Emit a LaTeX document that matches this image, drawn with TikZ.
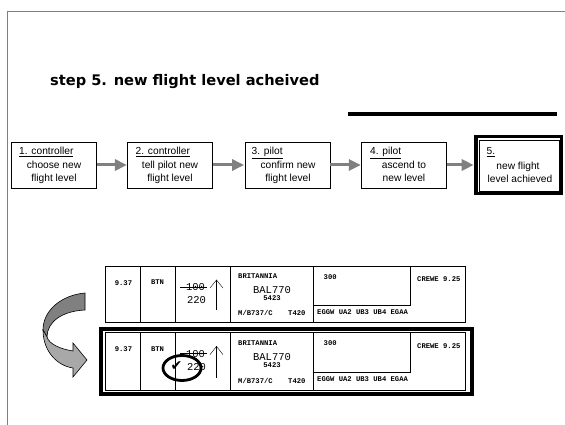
\documentclass[tikz,border=0pt]{standalone}
\usepackage{fontspec}
\setmainfont{Liberation Sans}
\newfontfamily\titlefont{DejaVu Sans}
\newfontfamily\stripmono{Liberation Mono}
\newfontfamily\symfont{DejaVu Sans}
\usetikzlibrary{arrows.meta,shapes.geometric}
\definecolor{framegray}{RGB}{128,128,128}
\definecolor{arrowgray}{RGB}{128,128,128}
\definecolor{banddark}{RGB}{128,128,128}
\definecolor{bandlight}{RGB}{168,168,168}

\newcommand\flightstrip[3]{%
\begin{scope}[shift={(0,#2)},yscale=#3]
  \draw[stripline] (105.5,0) rectangle (465.5,55.5);
  \draw[stripline] (140.5,0) -- (140.5,55.5);
  \draw[stripline] (175.5,0) -- (175.5,55.5);
  \draw[stripline] (230,0) -- (230,55.5);
  \draw[stripline] (313.5,0) -- (313.5,55.5);
  \draw[stripline] (313.5,38.5) -- (410,38.5) -- (410,0);
  \node[monosmall] (#1time) at (123.5,16.5) {9.37};
  \node[monosmall] (#1btn) at (157.5,16) {BTN};
  \node[monobig] (#1old) at (195.5,20.5) {100};
  \draw ([xshift=-6pt]#1old.west) -- ([xshift=2pt]#1old.east);
  \node[monobig] (#1new) at (196.5,33.5) {220};
  \draw (216.5,43.5) -- (216.5,13.5);
  \draw (210,21.5) -- (216.5,13.5) -- (223,21.5);
  \node[monosmall, anchor=west] (#1comp) at (238,10) {BRITANNIA};
  \node[monobig] (#1call) at (272,23.5) {BAL770};
  \node[monosmall] (#1sq) at (272,31.5) {5423};
  \node[monosmall, anchor=west] (#1type) at (238,46.5) {M/B737/C};
  \node[monosmall, anchor=west] (#1spd) at (288,46.5) {T420};
  \node[monosmall, anchor=west] (#1cfl) at (323.5,10.5) {300};
  \node[monosmall, anchor=west] (#1fix) at (417,13) {CREWE 9.25};
  \node[monosmall, anchor=west] (#1route) at (317,45.5) {EGGW UA2 UB3 UB4 EGAA};
\end{scope}}

\begin{document}
\begin{tikzpicture}[x=1pt,y=-1pt,
  flowbox/.style={draw, line width=0.8pt, minimum width=85pt, minimum height=46pt, inner sep=0pt},
  flowtext/.style={font=\fontsize{10.2}{12}\selectfont, inner sep=0pt, anchor=base},
  flowhead/.style={font=\fontsize{10.2}{12}\selectfont, inner sep=0pt, anchor=base west},
  flowarrow/.style={draw=arrowgray, line width=3pt, -{Triangle[length=12pt,width=11pt]}, shorten >=0.5pt},
  stripline/.style={line width=0.9pt},
  monosmall/.style={font=\stripmono\bfseries\fontsize{7.2}{8}\selectfont, inner sep=0pt},
  monobig/.style={font=\stripmono\fontsize{10.5}{12}\selectfont, inner sep=0pt}
]
\useasboundingbox (0,0) rectangle (565,425);

% page frame
\draw[framegray, line width=0.8pt] (565,11.5) -- (7.5,11.5) -- (7.5,425);

% title and rule
\node[anchor=base west, inner sep=0pt, font=\titlefont\bfseries\fontsize{14.6}{16}\selectfont] (title) at (50,86) {step 5. new flight level acheived};
\coordinate (ruleA) at (348,114);
\coordinate (ruleB) at (557,114);
\draw[line width=3.5pt] (ruleA) -- (ruleB);

% flow boxes
\node[flowbox] (b1) at (54.2,165) {};
\node[flowbox] (b2) at (170.3,165) {};
\node[flowbox] (b3) at (287.5,165) {};
\node[flowbox] (b4) at (404.2,165) {};
\node[draw, line width=3.5pt, minimum width=85.5pt, minimum height=56.5pt, inner sep=0pt] (b5o) at (518.7,165) {};
\node[draw, line width=0.8pt, minimum width=80pt, minimum height=51pt, inner sep=0pt] (b5) at (519,165.5) {};

\node[flowhead] (h1) at (19,155) {\underline{1. controller}};
\node[flowtext] (t1a) at (54,168.5) {choose new};
\node[flowtext] (t1b) at (54,181.5) {flight level};
\node[flowhead] (h2) at (135.5,155) {\underline{2. controller}};
\node[flowtext] (t2a) at (170,168.5) {tell pilot new};
\node[flowtext] (t2b) at (170,181.5) {flight level};
\node[flowhead] (h3) at (251.5,155) {\underline{3. pilot}};
\node[flowtext] (t3a) at (288,168.5) {confirm new};
\node[flowtext] (t3b) at (288,181.5) {flight level};
\node[flowhead] (h4) at (370,155) {\underline{4. pilot}};
\node[flowtext] (t4a) at (404,168.5) {ascend to};
\node[flowtext] (t4b) at (404,181.5) {new level};
\node[flowhead] (h5) at (486.5,155) {\underline{5.}};
\node[flowtext] (t5a) at (518,169.5) {new flight};
\node[flowtext] (t5b) at (520,182.5) {level achieved};

\draw[flowarrow] (b1) -- (b2);
\draw[flowarrow] (b2) -- (b3);
\draw[flowarrow] (b3) -- (b4);
\draw[flowarrow] (b4) -- (b5o);

% flight strips
\flightstrip{sa}{266.5}{1}
\flightstrip{sb}{332.3}{1.04}
\draw[line width=3.8pt] (101,329.2) rectangle (471.8,394);

% tick and ring on the new level
\node[inner sep=0pt, font=\symfont\bfseries\fontsize{14}{14}\selectfont] (tick) at (176.5,366) {✔};
\node[draw, ellipse, line width=2.8pt, minimum width=38pt, minimum height=25pt, inner sep=0pt] (ring) at (182,368) {};

% curved twisted arrow
\draw[line width=0.6pt, fill=banddark] (85,293) .. controls (62,295) and (43,310) .. (43,330)
  -- (47,337) .. controls (47,322) and (62,311) .. (85,310) -- cycle;
\draw[line width=0.6pt, fill=bandlight] (43,330) .. controls (43,352) and (58,366) .. (73,368)
  -- (73,377) -- (87,360) -- (73,343) -- (73,351)
  .. controls (60,349) and (49,344) .. (47,337) -- cycle;
\end{tikzpicture}
\end{document}
